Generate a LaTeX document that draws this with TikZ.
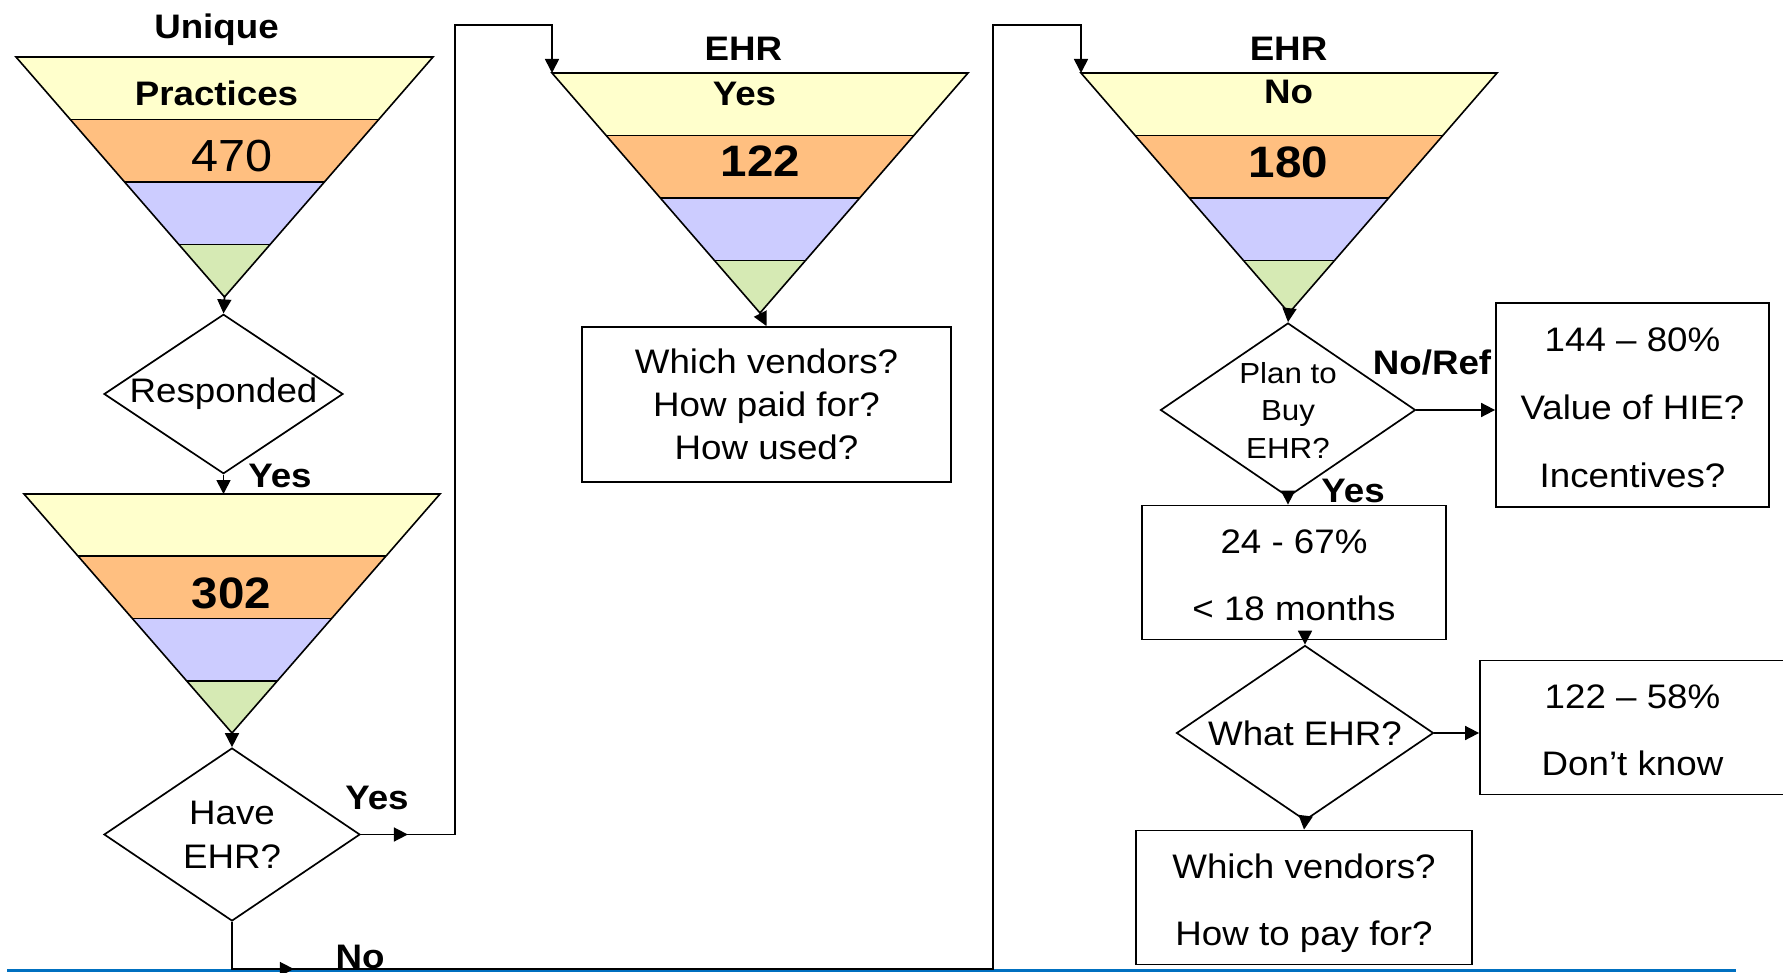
\documentclass[tikz,border=0pt]{standalone}
\usepackage{fontspec}
\setmainfont{Liberation Sans}[FakeStretch=1.08]
\usetikzlibrary{shapes.geometric,arrows.meta,decorations.markings}
\definecolor{fyel}{RGB}{255,255,204}
\definecolor{forg}{RGB}{255,191,128}
\definecolor{fpur}{RGB}{204,204,255}
\definecolor{fgrn}{RGB}{214,234,180}
\definecolor{sepblue}{RGB}{0,112,192}
\tikzset{
  fline/.style={line width=1.6pt, line join=miter},
  lbl/.style={anchor=base, inner sep=0pt, font=\fontsize{34}{40}\selectfont\bfseries},
  num/.style={anchor=base, inner sep=0pt, font=\fontsize{44}{50}\selectfont\bfseries},
  dec/.style={diamond, draw, line width=1.7pt, shape aspect=1.47, inner sep=0pt, align=center},
  qbox/.style={rectangle, draw, line width=1.8pt, inner sep=0pt, align=center},
  conn/.style={line width=1.7pt},
  arrowed/.style={-{Triangle[length=14pt,width=14pt]}},
  midarr/.style={postaction={decorate}, decoration={markings, mark=at position #1 with {\arrow{Triangle[length=14pt,width=14pt]}}}}
}
\newcommand{\lowered}[2]{\raisebox{-#1}[\height][\depth]{\begin{tabular}{@{}c@{}}#2\end{tabular}}}
\newcommand{\drawfunnel}[5]{% name, cx, top, halfwidth, height
  \path ({#2-#4},#3) coordinate (#1tl) ({#2+#4},#3) coordinate (#1tr) (#2,#3) coordinate (#1t) (#2,{#3+#5}) coordinate (#1a);
  \foreach \fa/\fb/\fcol in {0/0.2604/fyel,0.2604/0.5208/forg,0.5208/0.7813/fpur,0.7813/1/fgrn}{
    \fill[\fcol] ({#2-#4*(1-\fa)},{#3+#5*\fa}) -- ({#2+#4*(1-\fa)},{#3+#5*\fa}) -- ({#2+#4*(1-\fb)},{#3+#5*\fb}) -- ({#2-#4*(1-\fb)},{#3+#5*\fb}) -- cycle;
  }
  \foreach \fa in {0.2604,0.5208,0.7813}{
    \draw[fline] ({#2-#4*(1-\fa)},{#3+#5*\fa}) -- ({#2+#4*(1-\fa)},{#3+#5*\fa});
  }
  \draw[fline] (#1tl) -- (#1tr) -- (#1a) -- cycle;
}
\begin{document}
\begin{tikzpicture}[x=1pt,y=-1pt]
\useasboundingbox (0,0) rectangle (1783,973);
\fill[white] (0,0) rectangle (1783,973);

% separator line
\draw[sepblue, line width=3pt] (7,970) coordinate (sepl) -- (1736,970) coordinate (sepr);

% funnels
\drawfunnel{fa}{224.5}{57}{208.5}{240}
\drawfunnel{fb}{232}{494}{208}{239}
\drawfunnel{fc}{760}{73}{208}{240}
\drawfunnel{fd}{1289}{73}{208}{240}

% funnel texts
\node[lbl] (tunique) at (216.5,38.9) {Unique};
\node[lbl] (tpract) at (216.5,106) {Practices};
\node[anchor=base, inner sep=0pt, font=\fontsize{45}{50}\selectfont] (t470) at (232,172) {470};
\node[num] (t302) at (231.5,608.8) {302};
\node[lbl] (tehr1) at (743.5,61) {EHR};
\node[lbl] (tyes1) at (744.5,105.2) {Yes};
\node[num] (t122) at (760.5,176.8) {122};
\node[lbl] (tehr2) at (1288.5,60.2) {EHR};
\node[lbl] (tno2) at (1288.5,104) {No};
\node[num] (t180) at (1288.5,177.5) {180};

% decisions
\node[dec, minimum width=239pt, minimum height=158pt, font=\fontsize{34}{40}\selectfont] (resp) at (223.5,394) {Responded};
\node[dec, minimum width=256pt, minimum height=173pt, font=\fontsize{34}{44}\selectfont] (have) at (232,834.5) {Have\\EHR?};
\node[dec, minimum width=255pt, minimum height=174pt, font=\fontsize{29}{37.5}\selectfont] (plan) at (1288,410) {Plan to\\Buy\\EHR?};
\node[dec, minimum width=257pt, minimum height=175pt, font=\fontsize{34}{40}\selectfont] (what) at (1305,733) {What EHR?};

% boxes
\node[qbox, minimum width=369pt, minimum height=155pt, font=\fontsize{34}{43}\selectfont] (vend1) at (766.5,404.5) {Which vendors?\\How paid for?\\How used?};
\node[qbox, minimum width=273pt, minimum height=200pt, font=\fontsize{34}{68}\selectfont] (b144) at (1632.5,405) {\lowered{1pt}{144 – 80\%\\Value of HIE?\\Incentives?}};
\node[qbox, minimum width=304pt, minimum height=133pt, font=\fontsize{34}{67}\selectfont] (b24) at (1294,572.5) {\lowered{1.5pt}{24 - 67\%\\< 18 months}};
\node[qbox, minimum width=305pt, minimum height=133pt, font=\fontsize{34}{67}\selectfont] (b122) at (1632.5,727.5) {\lowered{1pt}{122 – 58\%\\Don’t know}};
\node[qbox, minimum width=336pt, minimum height=131pt, font=\fontsize{34}{67}\selectfont] (vend2) at (1304,897.5) {\lowered{1pt}{Which vendors?\\How to pay for?}};

% edge labels
\node[lbl] (lyes1) at (280,487) {Yes};
\node[lbl] (lyes2) at (377,809) {Yes};
\node[lbl] (lno) at (360,968) {No};
\node[lbl] (lnoref) at (1432,375) {No/Ref};
\node[lbl] (lyes3) at (1353,502) {Yes};

% bend points
\coordinate (yb) at (455,25);
\coordinate (nb1) at (993,969);
\coordinate (nb2) at (993,25);

% connectors
\draw[conn, arrowed] (faa) -- (resp.north);
\draw[conn, arrowed] (resp.south) -- (resp.south |- fbt);
\draw[conn, arrowed] (fba) -- (have.north);
\draw[conn, arrowed, midarr=47pt] (have.east) -| (yb) -| (fctl);
\draw[conn, arrowed, midarr=109pt] (have.south) |- (nb1) -- (nb2) -| (fdtl);
\draw[conn, arrowed] (fca) -- (vend1.north);
\draw[conn, arrowed] (fda) -- (plan.north);
\draw[conn, arrowed] (plan.east) -- (b144.west |- plan.east);
\draw[conn, arrowed] (plan.south) -- (plan.south |- b24.north);
\draw[conn, arrowed] (b24.south -| what.north) -- (what.north);
\draw[conn, arrowed] (what.east) -- (b122.west |- what.east);
\draw[conn, arrowed] (what.south) -- (vend2.north);
\end{tikzpicture}
\end{document}
